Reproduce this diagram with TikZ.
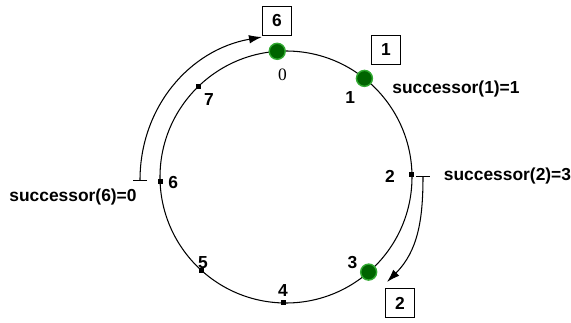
\documentclass[tikz,border=0pt]{standalone}
\usepackage{fontspec}
\setsansfont{Liberation Sans}
\newfontfamily\zerofont{Liberation Serif}
\usetikzlibrary{calc,arrows.meta}
\definecolor{dotgreen}{RGB}{0,100,0}
\definecolor{dotrim}{RGB}{50,170,50}
\tikzset{
  peer/.style={circle,fill=dotgreen,draw=dotrim,line width=0.8pt,minimum size=0.32cm,inner sep=0pt},
  keypt/.style={fill=black,minimum size=0.1cm,inner sep=0pt},
  idtxt/.style={font=\sffamily\bfseries\fontsize{9.9}{11}\selectfont},
  idbox/.style={draw,line width=0.6pt,minimum size=0.58cm,inner sep=0pt,idtxt},
  succarrow/.style={line width=0.6pt,arrows={Bar[width=0.28cm]-Latex[length=0.26cm,width=0.17cm]}}
}

\begin{document}
\begin{tikzpicture}
\useasboundingbox (0,0) rectangle (11.42,6.46);
\coordinate (c) at (5.72,2.92);
\draw[line width=0.6pt] (c) circle (2.52);
% identifiers on the ring
\node[peer] (n0) at ($(c)+(94:2.52)$) {};
\node[peer] (n1) at ($(c)+(51.5:2.52)$) {};
\node[keypt] (n2) at ($(c)+(1:2.52)$) {};
\node[peer] (n3) at ($(c)+(-49:2.52)$) {};
\node[keypt] (n4) at ($(c)+(-91:2.52)$) {};
\node[keypt] (n5) at ($(c)+(-132:2.52)$) {};
\node[keypt] (n6) at ($(c)+(182:2.52)$) {};
\node[keypt] (n7) at ($(c)+(134:2.52)$) {};
\node[font=\zerofont\fontsize{9.9}{11}\selectfont] (l0) at ($(c)+(92:2.04)$) {0};
\node[idtxt] (l1) at ($(c)+(51:2.04)$) {1};
\node[idtxt] (l2) at ($(c)+(0.5:2.08)$) {2};
\node[idtxt] (l3) at ($(c)+(-52:2.16)$) {3};
\node[idtxt] (l4) at ($(c)+(-91.5:2.28)$) {4};
\node[idtxt] (l5) at ($(c)+(-134:2.39)$) {5};
\node[idtxt] (l6) at ($(c)+(183:2.26)$) {6};
\node[idtxt] (l7) at ($(c)+(135:2.18)$) {7};
% keys
\node[idbox] (b6) at (5.54,6.04) {6};
\node[idbox] (b1) at (7.72,5.46) {1};
\node[idbox] (b2) at (8.0,0.40) {2};
\node[idtxt] (s1) at (9.12,4.68) {successor(1)=1};
\node[idtxt] (s2) at (10.15,2.94) {successor(2)=3};
\node[idtxt] (s6) at (1.46,2.52) {successor(6)=0};
% successor arcs
\coordinate (a6) at (2.80,2.84);
\coordinate (e6) at (5.24,5.72);
\draw[succarrow] (a6) to[out=90,in=190] (e6);
\coordinate (a2) at (8.46,2.94);
\coordinate (e2) at (7.74,0.82);
\draw[succarrow] (a2) to[out=-90,in=45] (e2);
\end{tikzpicture}
\end{document}
